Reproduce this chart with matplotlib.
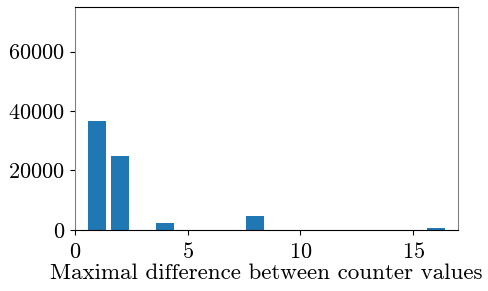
import matplotlib
matplotlib.use("Agg")
import matplotlib.pyplot as plt

# Values
diffs = [1, 2, 4, 8, 16]
counts = [36700, 25000, 2400, 4700, 700]

plt.rcParams["font.family"] = "serif"
plt.rcParams["font.serif"] = ["cmr10"]
plt.rcParams["mathtext.fontset"] = "cm"
plt.rcParams["axes.formatter.use_mathtext"] = True
plt.rcParams["font.size"] = 16

fig, ax = plt.subplots(figsize=(4.89, 2.91), dpi=100)
fig.subplots_adjust(left=0.153, right=0.937, top=0.976, bottom=0.21)

ax.bar(diffs, counts, width=0.8, color="#1f77b4")

ax.set_xlim(0, 17)
ax.set_ylim(0, 75000)
ax.set_xticks([0, 5, 10, 15])
ax.set_yticks([0, 20000, 40000, 60000])
ax.tick_params(axis="x", pad=5.5)
ax.set_xlabel("Maximal difference between counter values", fontsize=16.6, labelpad=1)

for side in ("left", "right"):
    ax.spines[side].set_color("#808080")

fig.savefig("out.png", dpi=100)
